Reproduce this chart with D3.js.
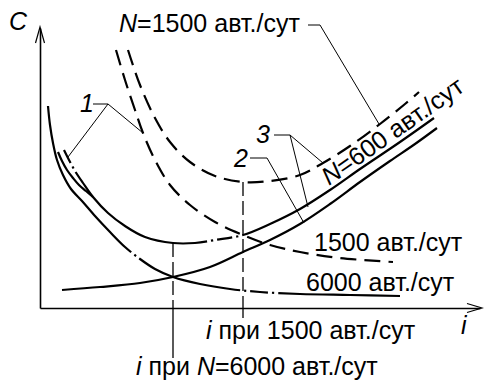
<!DOCTYPE html>
<html>
<head>
<meta charset="utf-8">
<script src="https://cdn.jsdelivr.net/npm/d3@7"></script>
<style>
body { margin: 0; background: #fff; }
text { font-family: "Liberation Sans", Arial, sans-serif; font-size: 25px; fill: #000; }
</style>
</head>
<body>
<div id="chart"></div>
<script>
var width = 484;
var height = 382;

// i (grade) and C (cost), arbitrary units
// decreasing curve, N=6000
var iDec6000 = [0.8, 1.0, 1.3, 1.7, 2.3, 3.1, 4.2, 5.5, 7.0, 8.5, 10.0, 11.5, 13.3, 16.0, 19.0, 22.0, 26.0, 31.0, 36.0];
var cDec6000 = [20.2, 18.3, 16.5, 14.8, 13.3, 11.9, 10.7, 9.2, 7.6, 6.1, 4.9, 3.9, 3.1, 2.4, 1.9, 1.6, 1.4, 1.3, 1.2];
// short inner branch next to it
var iInner = [1.8, 2.2, 2.7, 3.3, 3.9, 4.6, 5.3];
var cInner = [15.6, 14.7, 13.8, 13.0, 12.3, 11.7, 11.1];
// total, N=6000
var iTot6000 = [2.4, 2.9, 3.5, 4.3, 5.3, 6.8, 8.5, 10.5, 13.3, 15.5, 17.5, 20.3, 23.0, 26.0, 29.0, 32.0, 36.0, 39.4];
var cTot6000 = [15.8, 14.8, 13.7, 12.5, 11.1, 9.5, 8.2, 7.1, 6.5, 6.5, 6.8, 7.3, 8.4, 9.9, 11.8, 13.9, 16.6, 19.0];
// rising curve 2
var iRise = [2.2, 6.0, 10.0, 13.3, 17.0, 20.3, 23.0, 26.0, 29.0, 32.0, 35.0, 37.5, 39.7];
var cRise = [1.8, 2.1, 2.5, 3.1, 4.1, 5.6, 6.8, 8.4, 10.4, 12.6, 14.7, 16.4, 18.0];
// decreasing curve, N=1500
var iDec1500 = [7.6, 8.5, 9.5, 10.3, 11.5, 13.0, 15.0, 17.5, 20.3, 23.0, 26.0, 30.0, 35.3];
var cDec1500 = [25.8, 22.8, 19.8, 17.5, 14.8, 12.3, 10.3, 8.6, 7.3, 6.3, 5.6, 5.0, 4.6];
// total, N=1500
var iTot1500 = [8.8, 10.0, 11.5, 13.0, 15.0, 17.5, 20.3, 23.0, 26.0, 28.3, 31.0, 34.0, 36.5, 37.9];
var cTot1500 = [25.8, 22.3, 19.0, 16.6, 14.6, 13.2, 12.6, 12.7, 13.3, 14.5, 16.2, 18.4, 20.4, 21.6];
// optimum grades
var iOpt = [13.3, 20.3];
var cOpt = [6.5, 12.6];

function pts(xs, ys) {
    return xs.map(function(x, k) { return [x, ys[k]]; });
}

var xScale = d3.scaleLinear().domain([0, 44]).range([40, 480]);
var yScale = d3.scaleLinear().domain([0, 28]).range([308, 28]);

var svg = d3.select("#chart").append("svg")
    .attr("width", width)
    .attr("height", height);

var line = d3.line()
    .x(function(d) { return xScale(d[0]); })
    .y(function(d) { return yScale(d[1]); })
    .curve(d3.curveCatmullRom.alpha(0.5));

// axes, no ticks
svg.append("g")
    .attr("transform", "translate(0," + yScale(0) + ")")
    .call(d3.axisBottom(xScale).tickValues([]).tickSizeOuter(0))
    .select(".domain").attr("stroke-width", 1.6);
svg.append("g")
    .attr("transform", "translate(" + xScale(0) + ",0)")
    .call(d3.axisLeft(yScale).tickValues([]).tickSizeOuter(0))
    .select(".domain").attr("stroke-width", 1.6);

// open arrow heads
svg.append("path")
    .attr("d", "M" + (xScale(0) - 4.5) + "," + (yScale(28) + 15) + "L" + xScale(0) + "," + (yScale(28) - 1) + "L" + (xScale(0) + 4.5) + "," + (yScale(28) + 15))
    .attr("fill", "none").attr("stroke", "#000").attr("stroke-width", 1.2);
svg.append("path")
    .attr("d", "M" + (xScale(44) - 13) + "," + (yScale(0) - 4.5) + "L" + (xScale(44) + 2) + "," + yScale(0) + "L" + (xScale(44) - 13) + "," + (yScale(0) + 4.5))
    .attr("fill", "none").attr("stroke", "#000").attr("stroke-width", 1.2);

function lengthAtX(node, x) {
    var lo = 0, hi = node.getTotalLength();
    for (var k = 0; k < 30; k++) {
        var mid = (lo + hi) / 2;
        if (node.getPointAtLength(mid).x < x) lo = mid; else hi = mid;
    }
    return lo;
}

// solid line broken by "gap dot gap" at the given i values
function dotDash(node, gaps) {
    var total = node.getTotalLength(), arr = [], pos = 0;
    gaps.forEach(function(g) {
        var L = lengthAtX(node, xScale(g));
        arr.push(Math.max(0, L - 5 - pos), 4, 2.2, 4);
        pos = L + 5.2;
    });
    arr.push(total - pos + 10, 0);
    return arr.join(",");
}

function curve(data, dash) {
    return svg.append("path")
        .attr("d", line(data))
        .attr("fill", "none")
        .attr("stroke", "#000")
        .attr("stroke-width", 2.2)
        .attr("stroke-dasharray", dash || null);
}

curve(pts(iInner, cInner));
curve(pts(iRise, cRise));
var d6 = curve(pts(iDec6000, cDec6000));
d6.attr("stroke-dasharray", dotDash(d6.node(), [9.5, 20.5, 23.3]));
var t6 = curve(pts(iTot6000, cTot6000));
t6.attr("stroke-dasharray", dotDash(t6.node(), [3.3, 17.2, 19.7]));
curve(pts(iDec1500, cDec1500), "16,8");
curve(pts(iTot1500, cTot1500), "16,8");

// drop lines to the optimum grade
var drop = [50, 10];
iOpt.forEach(function(x, k) {
    svg.append("line")
        .attr("x1", xScale(x)).attr("x2", xScale(x))
        .attr("y1", yScale(cOpt[k])).attr("y2", yScale(0))
        .attr("stroke", "#000").attr("stroke-width", 1.3)
        .attr("stroke-dasharray", "14,5");
    svg.append("line")
        .attr("x1", xScale(x)).attr("x2", xScale(x))
        .attr("y1", yScale(0)).attr("y2", yScale(0) + drop[k])
        .attr("stroke", "#000").attr("stroke-width", 1.3);
});

// leader lines
var leaders = [
    [[5.3, 20.4], [6.8, 20.4], [2.8, 15.1]],
    [[6.8, 20.4], [10.3, 17.5]],
    [[21.0, 15.0], [22.7, 15.0], [26.4, 8.5]],
    [[23.4, 17.3], [25.0, 17.3], [28.3, 14.5]],
    [[25.0, 17.3], [26.8, 10.1]],
    [[26.8, 28.3], [28.0, 28.3], [33.9, 18.4]]
];
var straight = d3.line()
    .x(function(d) { return xScale(d[0]); })
    .y(function(d) { return yScale(d[1]); });
leaders.forEach(function(l) {
    svg.append("path")
        .attr("d", straight(l))
        .attr("fill", "none")
        .attr("stroke", "#000")
        .attr("stroke-width", 1);
});

// labels
function label(x, y, parts, rot) {
    var t = svg.append("text").attr("x", x).attr("y", y);
    if (rot) t.attr("transform", "rotate(" + rot + "," + x + "," + y + ")");
    parts.forEach(function(p) {
        t.append("tspan")
            .style("font-style", p[1] ? "italic" : "normal")
            .text(p[0]);
    });
}

label(9, 30, [["C", true]]);
label(461, 334, [["i", true]]);
label(119, 32, [["N", true], ["=1500 авт./сут", false]]);
label(80, 112, [["1", true]]);
label(234, 167, [["2", true]]);
label(256, 143, [["3", true]]);
label(314, 251, [["1500 авт./сут", false]]);
label(306, 291, [["6000 авт./сут", false]]);
label(206, 339, [["i", true], [" при 1500 авт./сут", false]]);
label(136, 375, [["i", true], [" при ", false], ["N", true], ["=6000 авт./сут", false]]);
label(329, 186, [["N", true], ["=600 авт./сут", false]], -35);
</script>
</body>
</html>
